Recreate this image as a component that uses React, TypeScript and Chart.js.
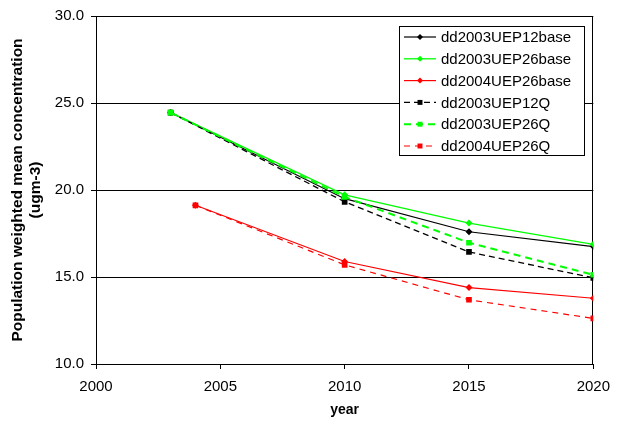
import React, { useEffect, useRef } from "react";
import { Chart, registerables } from "chart.js";

Chart.register(...registerables);

const years2003 = [2003, 2010, 2015, 2020];
const years2004 = [2004, 2010, 2015, 2020];

const uep12base2003 = [24.45, 19.5, 17.6, 16.75];
const uep26base2003 = [24.45, 19.72, 18.1, 16.88];
const uep26base2004 = [19.12, 15.89, 14.39, 13.78];
const uep12Q2003 = [24.45, 19.32, 16.44, 14.95];
const uep26Q2003 = [24.45, 19.6, 16.97, 15.13];
const uep26Q2004 = [19.12, 15.7, 13.69, 12.62];

const seriesNames = [
  "dd2003UEP12base",
  "dd2003UEP26base",
  "dd2004UEP26base",
  "dd2003UEP12Q",
  "dd2003UEP26Q",
  "dd2004UEP26Q",
];

const xTicks = [2000, 2005, 2010, 2015, 2020];
const yTicks = [10, 15, 20, 25, 30];

const FONT = "'Liberation Sans', Arial, sans-serif";

const toPoints = (xs: number[], ys: number[]) => xs.map((x, i) => ({ x, y: ys[i] }));

function drawMarker(ctx: CanvasRenderingContext2D, style: string, x: number, y: number, r: number, color: string) {
  ctx.save();
  ctx.fillStyle = color;
  ctx.setLineDash([]);
  ctx.beginPath();
  if (style === "rectRot") {
    ctx.moveTo(x, y - r);
    ctx.lineTo(x + r, y);
    ctx.lineTo(x, y + r);
    ctx.lineTo(x - r, y);
    ctx.closePath();
  } else {
    const s = r * Math.SQRT1_2;
    ctx.rect(x - s, y - s, 2 * s, 2 * s);
  }
  ctx.fill();
  ctx.restore();
}

const framePlugin = {
  id: "frame",
  beforeDatasetsDraw(chart: any) {
    const { ctx, chartArea } = chart;
    ctx.save();
    ctx.strokeStyle = "#000";
    ctx.lineWidth = 1;
    ctx.strokeRect(
      Math.round(chartArea.left) + 0.5,
      Math.round(chartArea.top) + 0.5,
      Math.round(chartArea.right - chartArea.left) - 1,
      Math.round(chartArea.bottom - chartArea.top)
    );
    ctx.restore();
  },
};

const legendPlugin = {
  id: "boxLegend",
  afterDraw(chart: any) {
    const { ctx } = chart;
    const bx = 399.5, by = 26.5, bw = 185, bh = 129;
    ctx.save();
    ctx.fillStyle = "#fff";
    ctx.fillRect(bx, by, bw, bh);
    ctx.strokeStyle = "#000";
    ctx.lineWidth = 1;
    ctx.strokeRect(bx, by, bw, bh);
    ctx.font = `15px ${FONT}`;
    ctx.textBaseline = "middle";
    ctx.textAlign = "left";
    chart.data.datasets.forEach((ds: any, i: number) => {
      const y = 37 + i * 21.8;
      ctx.save();
      ctx.strokeStyle = ds.borderColor;
      ctx.lineWidth = ds.borderWidth;
      ctx.setLineDash(ds.borderDash || []);
      ctx.beginPath();
      ctx.moveTo(404, y);
      ctx.lineTo(436, y);
      ctx.stroke();
      ctx.restore();
      drawMarker(ctx, ds.pointStyle, 420, y, ds.pointRadius - 0.5, ds.borderColor);
      ctx.fillStyle = "#000";
      ctx.fillText(ds.label, 441, y + 1);
    });
    ctx.restore();
  },
};

export default function App() {
  const ref = useRef<HTMLCanvasElement>(null);
  useEffect(() => {
    if (!ref.current) return;
    const mk = (i: number, xs: number[], ys: number[], color: string, dashed: boolean, width: number, dash: number[]) => ({
      label: seriesNames[i],
      order: 10 - i,
      data: toPoints(xs, ys),
      borderColor: color,
      backgroundColor: color,
      borderWidth: width,
      borderDash: dashed ? dash : [],
      pointStyle: dashed ? "rect" : "rectRot",
      pointRadius: dashed ? 4 : 3.5,
      pointBorderWidth: 0,
      pointBackgroundColor: color,
      tension: 0,
      fill: false,
    });
    const chart = new Chart(ref.current, {
      type: "line",
      data: {
        datasets: [
          mk(0, years2003, uep12base2003, "#000000", false, 1.2, []),
          mk(1, years2003, uep26base2003, "#00ff00", false, 1.3, []),
          mk(2, years2004, uep26base2004, "#ff0000", false, 1.2, []),
          mk(3, years2003, uep12Q2003, "#000000", true, 1.3, [6, 4]),
          mk(4, years2003, uep26Q2003, "#00ff00", true, 2, [7, 5]),
          mk(5, years2004, uep26Q2004, "#ff0000", true, 1.2, [6, 5]),
        ] as any,
      },
      options: {
        animation: false,
        responsive: false,
        layout: { padding: { left: 0, top: 13, right: 25, bottom: 0 } },
        plugins: { legend: { display: false }, tooltip: { enabled: false } },
        scales: {
          x: {
            type: "linear",
            min: xTicks[0],
            max: xTicks[xTicks.length - 1],
            afterBuildTicks: (s: any) => { s.ticks = xTicks.map((v) => ({ value: v })); },
            afterFit: (s: any) => { s.height = 63; },
            ticks: {
              maxRotation: 0,
              padding: 9,
              color: "#000",
              font: { family: FONT, size: 15 },
              callback: (v: any) => String(v),
            },
            grid: { drawOnChartArea: false, drawTicks: true, tickLength: 5, color: "#000" },
            border: { display: false },
            title: {
              display: true,
              text: "year",
              color: "#000",
              font: { family: FONT, size: 14, weight: "bold" },
              padding: { top: 0, bottom: 8 },
            },
          },
          y: {
            type: "linear",
            min: yTicks[0],
            max: yTicks[yTicks.length - 1],
            afterBuildTicks: (s: any) => { s.ticks = yTicks.map((v) => ({ value: v })); },
            afterFit: (s: any) => { s.width = 96; },
            ticks: {
              padding: 7,
              color: "#000",
              font: { family: FONT, size: 15 },
              callback: (v: any) => Number(v).toFixed(1),
            },
            grid: { drawTicks: true, tickLength: 5, color: "#000", lineWidth: 1 },
            border: { display: false },
            title: {
              display: true,
              text: ["Population weighted mean concentration", "(ugm-3)"],
              color: "#000",
              font: { family: FONT, size: 15.5, weight: "bold", lineHeight: "18px" },
              padding: { top: 9, bottom: 0 },
            },
          },
        },
      } as any,
      plugins: [framePlugin, legendPlugin],
    });
    return () => chart.destroy();
  }, []);
  return (
    <div style={{ position: "absolute", left: 0, top: 0, width: 619, height: 427, background: "#fff" }}>
      <canvas ref={ref} width={619} height={427} style={{ display: "block" }} />
    </div>
  );
}
